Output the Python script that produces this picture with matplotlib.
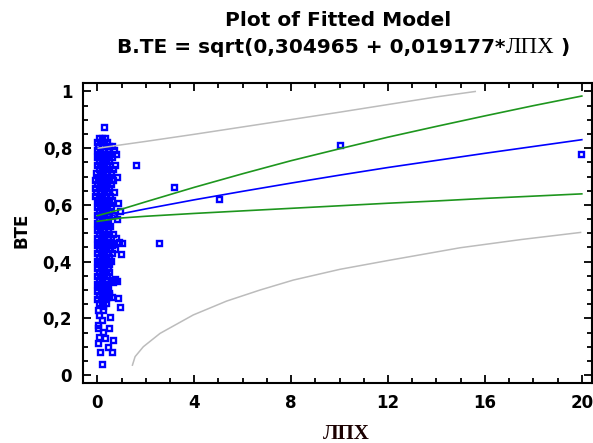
#Plot of fitted model: BTE versus LPH with confidence and prediction limits
import matplotlib
matplotlib.use('Agg')
import matplotlib.pyplot as plt
from matplotlib.ticker import MultipleLocator, FuncFormatter

# fitted line and 95% limits
fit_x = [0.0, 1, 2, 4, 6, 8, 10, 12, 14, 16, 18, 20]
fit_y = [0.552, 0.569, 0.586, 0.618, 0.648, 0.677, 0.705, 0.732, 0.757, 0.782, 0.806, 0.830]
conf_up = [0.562, 0.585, 0.611, 0.662, 0.710, 0.756, 0.798, 0.839, 0.877, 0.914, 0.950, 0.984]
conf_lo = [0.542, 0.554, 0.560, 0.570, 0.579, 0.588, 0.597, 0.606, 0.614, 0.623, 0.631, 0.639]

pred_up_x = [0.04, 1, 2, 4, 6, 8, 10, 12, 14, 15.6]
pred_up_y = [0.800, 0.812, 0.824, 0.849, 0.875, 0.901, 0.927, 0.954, 0.981, 1.0]
pred_lo_x = [1.45, 1.56, 1.90, 2.59, 3.96, 5.34, 6.72, 8.09, 10.02, 12.0, 14.98, 17.5, 19.95]
pred_lo_y = [0.035, 0.065, 0.100, 0.147, 0.212, 0.261, 0.300, 0.335, 0.373, 0.404, 0.449, 0.478, 0.503]

# observations: dense cluster near LPH=0, one row of BTE values with their LPH values
rows = [
    (0.835, [0.05, 0.2, 0.33]),
    (0.822, [0.0, 0.12, 0.27, 0.42]),
    (0.808, [0.04, 0.19, 0.34, 0.5, 0.62]),
    (0.795, [0.0, 0.13, 0.28, 0.43, 0.7]),
    (0.781, [0.06, 0.2, 0.35, 0.5, 0.78]),
    (0.768, [-0.02, 0.13, 0.27, 0.42, 0.6]),
    (0.754, [0.05, 0.2, 0.35, 0.48]),
    (0.741, [-0.03, 0.12, 0.27, 0.42, 0.72]),
    (0.727, [0.05, 0.2, 0.34, 0.5, 0.63]),
    (0.714, [-0.05, 0.1, 0.25, 0.4, 0.55]),
    (0.700, [0.03, 0.18, 0.33, 0.48, 0.8]),
    (0.687, [-0.1, 0.05, 0.2, 0.35, 0.5, 0.66]),
    (0.673, [-0.03, 0.12, 0.27, 0.42, 0.58]),
    (0.660, [-0.1, 0.05, 0.2, 0.35, 0.5]),
    (0.646, [-0.04, 0.11, 0.26, 0.41, 0.7]),
    (0.633, [-0.08, 0.06, 0.21, 0.36, 0.52]),
    (0.619, [-0.02, 0.13, 0.28, 0.43, 0.62]),
    (0.606, [0.05, 0.2, 0.35, 0.5, 0.85]),
    (0.592, [-0.02, 0.12, 0.27, 0.42, 0.58]),
    (0.579, [0.05, 0.2, 0.35, 0.48, 0.95]),
    (0.565, [-0.01, 0.14, 0.29, 0.44, 0.7]),
    (0.552, [0.06, 0.21, 0.36, 0.82]),
    (0.538, [-0.01, 0.14, 0.29, 0.44]),
    (0.525, [0.06, 0.21, 0.36, 0.52]),
    (0.511, [-0.02, 0.13, 0.28, 0.43]),
    (0.498, [0.05, 0.2, 0.35, 0.5, 0.66]),
    (0.484, [-0.01, 0.14, 0.29, 0.44, 0.78]),
    (0.471, [0.06, 0.21, 0.36, 0.52, 0.88]),
    (0.457, [-0.02, 0.13, 0.28, 0.43, 0.62]),
    (0.444, [0.05, 0.2, 0.35, 0.5, 0.75]),
    (0.430, [-0.01, 0.14, 0.29, 0.44, 0.6]),
    (0.417, [0.06, 0.21, 0.36, 0.5]),
    (0.403, [-0.02, 0.13, 0.28, 0.43, 0.58]),
    (0.390, [0.05, 0.2, 0.35, 0.5]),
    (0.376, [-0.01, 0.14, 0.29, 0.44]),
    (0.363, [0.06, 0.21, 0.36, 0.5]),
    (0.349, [-0.02, 0.13, 0.28, 0.42]),
    (0.336, [0.05, 0.2, 0.35, 0.55]),
    (0.322, [0.0, 0.14, 0.29, 0.45]),
    (0.309, [0.06, 0.21, 0.36]),
    (0.295, [-0.01, 0.14, 0.29, 0.44]),
    (0.282, [0.06, 0.21, 0.36, 0.5]),
    (0.268, [0.0, 0.14, 0.28]),
    (0.255, [0.07, 0.2, 0.35]),
]
extra_x = [0.29, 1.03, 0.98, 0.94, 0.83, 0.87, 0.66, 0.59, 0.21, 0.11, 0.45, 0.5, 0.52,
           0.22, 0.08, 0.18, 0.04, 0.25, 0.08, 0.32, 0.04, 0.39, 0.5, 0.66, 0.73, 0.59,
           0.22, 0.02, 0.02, 1.60, 3.17, 5.02, 2.53, 10.02, 19.97]
extra_y = [0.874, 0.467, 0.427, 0.241, 0.331, 0.273, 0.123, 0.082, 0.039, 0.082, 0.1, 0.165, 0.206,
           0.229, 0.212, 0.194, 0.165, 0.151, 0.135, 0.129, 0.112, 0.276, 0.288, 0.329, 0.338, 0.276,
           0.243, 0.229, 0.176, 0.742, 0.664, 0.622, 0.466, 0.811, 0.781]

lph, bte = [], []
for yv, xs in rows:
    for xv in xs:
        lph.append(xv)
        bte.append(yv)
lph += extra_x
bte += extra_y

sans = 'DejaVu Sans'
serif = 'Liberation Serif'

fig = plt.figure(figsize=(5.93, 4.43), dpi=100)
ax = fig.add_axes([83.3/593, 1-383.3/443, (592-83.3)/593, (383.3-82.7)/443])

ax.plot(lph, bte, 's', ms=3.6, mfc='none', mec='#0000ff', mew=1.7, clip_on=False)
ax.plot(pred_up_x, pred_up_y, color='#bcbcbc', lw=1.1)
ax.plot(pred_lo_x, pred_lo_y, color='#bcbcbc', lw=1.1)
ax.plot(fit_x, conf_up, color='#1e961e', lw=1.2)
ax.plot(fit_x, conf_lo, color='#1e961e', lw=1.2)
ax.plot(fit_x, fit_y, color='#0000ff', lw=1.2)

ax.set_xlim(-0.578, 20.42)
ax.set_ylim(-0.029, 1.031)
ax.xaxis.set_major_locator(MultipleLocator(4))
ax.xaxis.set_minor_locator(MultipleLocator(1))
ax.yaxis.set_major_locator(MultipleLocator(0.2))
ax.yaxis.set_minor_locator(MultipleLocator(0.05))
comma = FuncFormatter(lambda v, p: ('%g' % round(v, 3)).replace('.', ','))
ax.xaxis.set_major_formatter(comma)
ax.yaxis.set_major_formatter(comma)
ax.tick_params(which='both', direction='in', top=True, right=True, width=1.3, colors='black')
ax.tick_params(which='major', length=6)
ax.tick_params(which='minor', length=3.5)
ax.tick_params(axis='y', pad=8)
ax.tick_params(axis='x', pad=8)
for lab in ax.get_xticklabels() + ax.get_yticklabels():
    lab.set_family(sans)
    lab.set_weight('bold')
    lab.set_fontsize(12)
for s in ax.spines.values():
    s.set_linewidth(1.5)

fig.text(21/593, 1-230/443, 'BTE', rotation=90, ha='center', va='center',
         family=sans, weight='bold', fontsize=12)
fig.text(346/593, 1-439/443, 'ЛПХ', ha='center', va='baseline',
         family=serif, weight='bold', fontsize=15, color='#1a0000')

fig.text(338/593, 1-26/443, 'Plot of Fitted Model', ha='center', va='baseline',
         family=sans, weight='bold', fontsize=14.5)
# second title line mixes a sans part with the serif variable name
parts = [('B.TE = sqrt(0,304965 + 0,019177*', sans, 'bold', 14.5),
         ('ЛПХ', serif, 'normal', 16.5),
         (' )', sans, 'bold', 14.5)]
texts = [fig.text(0, 1-53/443, p[0], ha='left', va='baseline', family=p[1], weight=p[2],
                  fontsize=p[3]) for p in parts]
fig.canvas.draw()
r = fig.canvas.get_renderer()
widths = [t.get_window_extent(r).width for t in texts]
x0 = 344 - sum(widths)/2
for t, w in zip(texts, widths):
    t.set_x(x0/593)
    x0 += w

fig.savefig('out.png', dpi=100)
